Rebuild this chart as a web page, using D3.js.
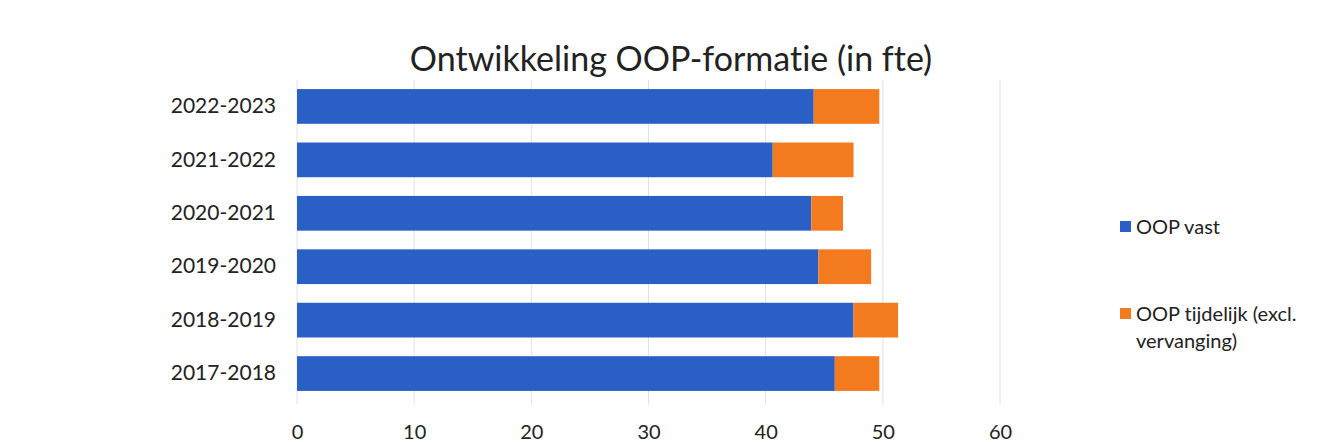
<!DOCTYPE html>
<html>
<head>
<meta charset="utf-8">
<script src="https://cdn.jsdelivr.net/npm/d3@7"></script>
<style>
    body { margin: 0; background: #fff; }
    svg { font-family: Lato, 'Open Sans', sans-serif; font-variant-ligatures: none; }
</style>
</head>
<body>
<div id="chart"></div>
<script>
'use strict';

// schooljaren, top to bottom as in the chart
let years = ['2022-2023', '2021-2022', '2020-2021', '2019-2020', '2018-2019', '2017-2018'];
let oopVast = [44.1, 40.6, 43.9, 44.5, 47.5, 45.9];
let oopTijdelijk = [5.6, 6.9, 2.7, 4.5, 3.8, 3.8];
let seriesNames = ['OOP vast', 'OOP tijdelijk (excl. vervanging)'];
let xTicks = [0, 10, 20, 30, 40, 50, 60];

let colors = ['#2a5fc6', '#f47a20'];

let width = 1318,
    height = 442;
let margin = {top: 80, left: 297, right: 318, bottom: 42};

let svg = d3.select('#chart')
    .append('svg')
    .attr('width', width)
    .attr('height', height);

let x = d3.scaleLinear()
    .domain([0, 60])
    .range([margin.left, width - margin.right]);

let y = d3.scaleBand()
    .domain(years)
    .range([margin.top, height - margin.bottom])
    .paddingInner(0.35)
    .paddingOuter(0.17);

// build stacked rows from the arrays
let rows = years.map(function(d, i) {
    return {year: d, vast: oopVast[i], tijdelijk: oopTijdelijk[i]};
});
let stacked = d3.stack().keys(['vast', 'tijdelijk'])(rows);

// gridlines
svg.append('g')
    .selectAll('line')
    .data(xTicks)
    .enter().append('line')
    .attr('x1', function(d) { return x(d); })
    .attr('x2', function(d) { return x(d); })
    .attr('y1', margin.top)
    .attr('y2', height - margin.bottom + 4)
    .attr('stroke', '#e2e2e2')
    .attr('stroke-width', 1);

// bars
svg.append('g')
    .selectAll('g')
    .data(stacked)
    .enter().append('g')
    .attr('fill', function(d, i) { return colors[i]; })
    .selectAll('rect')
    .data(function(d) { return d; })
    .enter().append('rect')
    .attr('x', function(d) { return x(d[0]); })
    .attr('width', function(d) { return x(d[1]) - x(d[0]); })
    .attr('y', function(d) { return y(d.data.year); })
    .attr('height', y.bandwidth());

// x axis labels
let xAxis = svg.append('g')
    .attr('transform', 'translate(0,' + (height - margin.bottom) + ')')
    .call(d3.axisBottom(x).tickValues(xTicks).tickSize(0).tickPadding(25));
xAxis.select('.domain').remove();
xAxis.selectAll('text')
    .attr('font-family', 'Lato, sans-serif')
    .attr('font-size', 20)
    .attr('fill', '#222');

// y axis labels
let yAxis = svg.append('g')
    .attr('transform', 'translate(' + (margin.left - 21) + ',0)')
    .call(d3.axisLeft(y).tickSize(0).tickPadding(0));
yAxis.select('.domain').remove();
yAxis.selectAll('text')
    .attr('font-family', 'Lato, sans-serif')
    .attr('font-size', 21)
    .attr('fill', '#222');

// title
svg.append('text')
    .attr('x', 671)
    .attr('y', 71)
    .attr('text-anchor', 'middle')
    .attr('font-size', 34)
    .attr('fill', '#222')
    .text('Ontwikkeling OOP-formatie (in fte)');

// legend
let legend = svg.append('g');
let legendY = [227, 314];
let legendLines = [['OOP vast'], ['OOP tijdelijk (excl.', 'vervanging)']];
seriesNames.forEach(function(name, i) {
    legend.append('rect')
        .attr('x', 1120)
        .attr('y', legendY[i] - 6)
        .attr('width', 11)
        .attr('height', 11)
        .attr('fill', colors[i]);
    legendLines[i].forEach(function(line, j) {
        legend.append('text')
            .attr('x', 1136)
            .attr('y', legendY[i] + 7 + j * 27)
            .attr('font-size', 20)
            .attr('fill', '#222')
            .text(line);
    });
});
</script>
</body>
</html>
